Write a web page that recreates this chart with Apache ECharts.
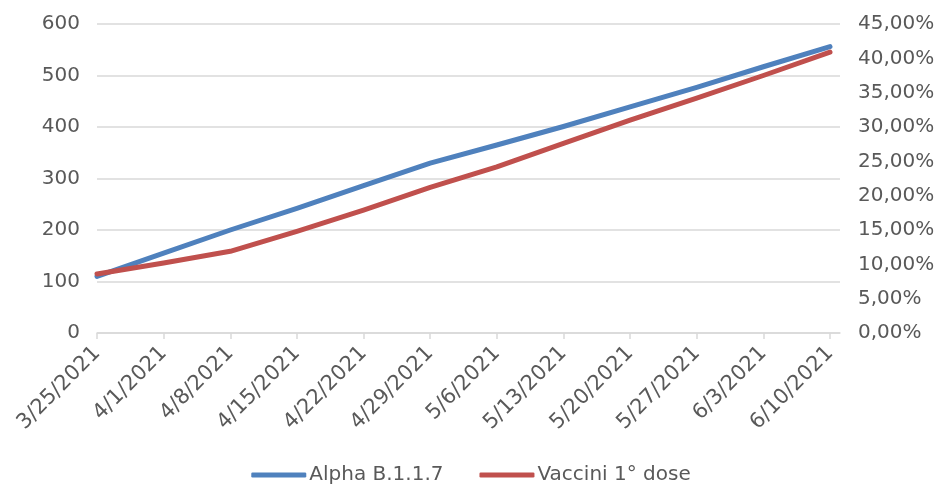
<!DOCTYPE html>
<html>
<head>
<meta charset="utf-8">
<script src="https://cdn.jsdelivr.net/npm/echarts@6/dist/echarts.min.js"></script>
<style>
  html, body { margin: 0; padding: 0; background: #fff; }
  #main { width: 942px; height: 485px; }
</style>
</head>
<body>
<div id="main"></div>
<script>
// dati
var dates = ['3/25/2021','4/1/2021','4/8/2021','4/15/2021','4/22/2021','4/29/2021',
             '5/6/2021','5/13/2021','5/20/2021','5/27/2021','6/3/2021','6/10/2021'];
var alpha = [110, 155, 200, 242, 286, 330, 365, 401, 439, 477, 517, 556];
var vaccini = [8.6, 10.2, 11.9, 14.8, 17.9, 21.2, 24.2, 27.6, 31.0, 34.2, 37.5, 40.9]; // %
var leftTicks = { min: 0, max: 600, step: 100 };
var rightTicks = { min: 0, max: 45, step: 5 };

var FONT = 'DejaVu Sans';
var TXT = '#595959';
var GRIDC = '#D9D9D9';

function pairs(arr) {
  var out = [];
  for (var i = 0; i < arr.length; i++) out.push([i, arr[i]]);
  return out;
}

var chart = echarts.init(document.getElementById('main'), null, { renderer: 'canvas' });

var option = {
  animation: false,
  backgroundColor: '#fff',
  grid: { left: 97, right: 102, top: 24, bottom: 152, containLabel: false },
  xAxis: {
    type: 'value',
    min: 0,
    max: 11.15,
    interval: 1,
    axisLine: { show: true, lineStyle: { color: GRIDC, width: 1.5 } },
    axisTick: { show: true, length: 6, lineStyle: { color: GRIDC, width: 1.5 } },
    splitLine: { show: false },
    axisLabel: {
      rotate: 45,
      margin: 17,
      color: TXT,
      fontFamily: FONT,
      fontSize: 21,
      showMaxLabel: false,
      formatter: function (v) {
        return (Math.abs(v - Math.round(v)) < 1e-6 && dates[Math.round(v)]) ? dates[Math.round(v)] : '';
      }
    }
  },
  yAxis: [
    {
      type: 'value',
      min: leftTicks.min,
      max: leftTicks.max,
      interval: leftTicks.step,
      axisLine: { show: false },
      axisTick: { show: false },
      splitLine: { show: true, lineStyle: { color: GRIDC, width: 1.5 } },
      axisLabel: { color: TXT, fontFamily: FONT, fontSize: 20, margin: 17 }
    },
    {
      type: 'value',
      position: 'right',
      min: rightTicks.min,
      max: rightTicks.max,
      interval: rightTicks.step,
      axisLine: { show: false },
      axisTick: { show: false },
      splitLine: { show: false },
      axisLabel: {
        color: TXT, fontFamily: FONT, fontSize: 20, margin: 18,
        formatter: function (v) { return v.toFixed(2).replace('.', ',') + '%'; }
      }
    }
  ],
  legend: {
    left: 'center',
    top: 460,
    itemWidth: 55,
    itemHeight: 5,
    itemGap: 36,
    icon: 'roundRect',
    textStyle: { color: TXT, fontFamily: FONT, fontSize: 20, padding: [0, 0, 0, -2] },
    data: ['Alpha B.1.1.7', 'Vaccini 1° dose']
  },
  series: [
    {
      name: 'Alpha B.1.1.7',
      type: 'line',
      yAxisIndex: 0,
      data: pairs(alpha),
      showSymbol: false,
      symbol: 'none',
      color: '#4F81BD',
      lineStyle: { width: 5, color: '#4F81BD', cap: 'round', join: 'round' }
    },
    {
      name: 'Vaccini 1° dose',
      type: 'line',
      yAxisIndex: 1,
      data: pairs(vaccini),
      showSymbol: false,
      symbol: 'none',
      color: '#C0504D',
      lineStyle: { width: 5, color: '#C0504D', cap: 'round', join: 'round' }
    }
  ]
};

chart.setOption(option);
</script>
</body>
</html>
